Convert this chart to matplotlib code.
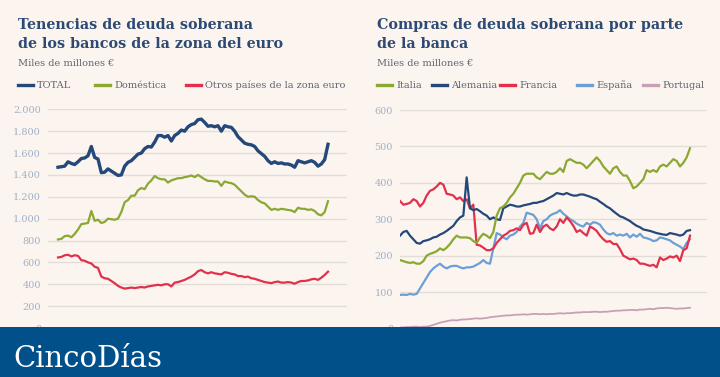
import matplotlib
matplotlib.use("Agg")
import matplotlib.pyplot as plt
from matplotlib.lines import Line2D
from matplotlib.patches import Rectangle

# --- datos (miles de millones de euros), lectura aproximada del gráfico ---
total = [1470, 1475, 1480, 1520, 1505, 1495, 1520, 1550, 1555, 1575, 1660, 1560,
         1545, 1420, 1425, 1455, 1435, 1415, 1395, 1400, 1480, 1515, 1530, 1560,
         1590, 1600, 1640, 1660, 1655, 1700, 1760, 1760, 1745, 1760, 1710, 1760,
         1780, 1810, 1800, 1840, 1860, 1870, 1905, 1910, 1880, 1845, 1850, 1840,
         1850, 1800, 1850, 1840, 1835, 1800, 1750, 1720, 1690, 1680, 1675, 1660,
         1620, 1595, 1570, 1530, 1505, 1520, 1505, 1510, 1500, 1500, 1490, 1470,
         1530, 1520, 1510, 1520, 1530, 1515, 1480, 1500, 1540, 1680]
domestica = [810, 815, 840, 845, 830, 860, 900, 950, 955, 960, 1070, 980,
             990, 960, 970, 1000, 995, 990, 1000, 1060, 1150, 1170, 1210, 1210,
             1260, 1280, 1270, 1320, 1350, 1390, 1370, 1360, 1360, 1330, 1350, 1360,
             1370, 1370, 1380, 1385, 1395, 1380, 1400, 1380, 1360, 1345, 1345, 1340,
             1340, 1300, 1340, 1330, 1325, 1310, 1280, 1250, 1220, 1200, 1205, 1200,
             1170, 1150, 1140, 1110, 1080, 1090, 1080, 1090, 1085, 1080, 1075, 1060,
             1100, 1090, 1090, 1080, 1085, 1070, 1040, 1030, 1060, 1160]
otros = [645, 650, 665, 670, 655, 665, 660, 620, 615, 600, 590, 560,
         550, 470, 455, 450, 430, 410, 385, 370, 360, 365, 370, 365,
         370, 375, 370, 380, 385, 390, 395, 390, 400, 400, 380, 415,
         420, 430, 440, 455, 470, 490, 520, 530, 510, 500, 510, 500,
         495, 490, 510, 505, 495, 490, 475, 475, 465, 470, 455, 450,
         440, 430, 420, 415, 410, 420, 425, 415, 415, 420, 415, 405,
         420, 430, 430, 435, 445, 450, 440, 460, 485, 515]

italia = [188, 185, 182, 180, 182, 178, 178, 185, 200, 205, 208, 212, 220, 215, 222,
          232, 245, 255, 250, 250, 250, 248, 240, 235, 250, 260, 255, 248, 265, 310,
          330, 335, 345, 360, 370, 385, 400, 420, 425, 425, 425, 415, 410, 420, 430,
          425, 425, 430, 440, 430, 460, 465, 460, 455, 455, 450, 440, 450, 460, 470,
          460, 445, 435, 425, 440, 445, 430, 420, 420, 405, 385, 390, 400, 410, 435,
          430, 435, 430, 445, 450, 445, 455, 465, 460, 445, 455, 470, 495]
alemania = [255, 265, 268, 255, 245, 235, 233, 240, 242, 245, 250, 252, 258, 262, 268,
            275, 282, 295, 305, 310, 415, 330, 325, 328, 322, 315, 310, 300, 305, 300,
            298, 330, 335, 340, 338, 335, 335, 338, 340, 342, 345, 345, 348, 350, 355,
            360, 365, 372, 370, 368, 372, 368, 365, 365, 368, 368, 365, 362, 358, 355,
            348, 342, 335, 330, 322, 315, 308, 305, 300, 295, 288, 282, 278, 272, 270,
            268, 265, 262, 260, 258, 257, 262, 260, 258, 255, 258, 268, 270]
francia = [350, 340, 342, 345, 355, 350, 335, 345, 365, 378, 382, 390, 400, 395, 370,
           368, 365, 355, 360, 350, 355, 330, 340, 230, 228, 222, 215, 215, 220, 235,
           245, 255, 260, 268, 270, 275, 270, 285, 290, 260, 262, 285, 265, 280, 285,
           275, 270, 280, 300, 290, 305, 295, 282, 265, 270, 262, 255, 280, 275, 268,
           255, 245, 238, 240, 232, 232, 218, 200, 195, 190, 192, 188, 178, 178, 175,
           172, 175, 168, 195, 188, 192, 198, 195, 200, 185, 215, 220, 255]
espana = [92, 93, 92, 95, 93, 95, 110, 125, 140, 155, 165, 172, 178, 170, 165,
          170, 172, 172, 168, 165, 168, 168, 170, 175, 180, 188, 180, 178, 220, 262,
          258, 250, 245, 255, 258, 265, 280, 290, 318, 315, 312, 300, 275, 295, 300,
          310, 315, 318, 325, 315, 308, 300, 295, 288, 283, 280, 290, 285, 292, 290,
          285, 272, 262, 258, 262, 255, 258, 255, 260, 250, 258, 252, 260, 250, 248,
          245, 240, 242, 250, 248, 245, 242, 235, 230, 225, 218, 235, 245]
portugal = [3, 3, 4, 4, 5, 5, 4, 5, 5, 7, 10, 13, 16, 18, 20,
            22, 23, 22, 24, 25, 25, 26, 27, 28, 27, 28, 29, 31, 32, 33,
            34, 35, 36, 36, 37, 38, 38, 39, 38, 39, 40, 40, 39, 40, 39,
            40, 40, 41, 42, 41, 42, 42, 43, 44, 44, 45, 45, 45, 46, 46,
            45, 46, 46, 47, 48, 49, 49, 50, 50, 51, 51, 50, 52, 52, 53,
            54, 53, 55, 56, 56, 57, 56, 55, 54, 55, 55, 56, 57]

left_ticks = [0, 200, 400, 600, 800, 1000, 1200, 1400, 1600, 1800, 2000]
left_ticklabels = ["0", "200", "400", "600", "800", "1.000", "1.200", "1.400",
                   "1.600", "1.800", "2.000"]
right_ticks = [0, 100, 200, 300, 400, 500, 600]

# --- colores ---
BG = "#fcf5ef"
NAVY = "#24487a"
GREEN = "#8aa832"
RED = "#e2304c"
LBLUE = "#6b9fd6"
PINK = "#c99fb5"
TITLE = "#2c4a74"
GRID = "#e3ddd8"
TICK = "#9fb0c8"
TXT = "#5d6474"
BANNER = "#01508a"

plt.rcParams["font.family"] = ["DejaVu Serif"]

fig = plt.figure(figsize=(7.2, 3.77), dpi=100, facecolor=BG)


def style_axes(ax):
    ax.set_facecolor(BG)
    for s in ax.spines.values():
        s.set_visible(False)
    ax.grid(axis="y", color=GRID, linewidth=1.0)
    ax.set_axisbelow(True)
    ax.tick_params(axis="y", length=0, pad=5, labelsize=7, labelcolor=TICK)
    ax.set_xticks([])


# izquierda
ax1 = fig.add_axes([48 / 720, 49 / 377, 299 / 720, 218.7 / 377])
style_axes(ax1)
x1 = range(len(total))
ax1.plot(x1, otros, color=RED, lw=1.6, solid_joinstyle="round")
ax1.plot(x1, domestica, color=GREEN, lw=1.6, solid_joinstyle="round")
ax1.plot(x1, total, color=NAVY, lw=2.4, solid_joinstyle="round")
ax1.set_xlim(-3, 86.7)
ax1.set_ylim(0, 2000)
ax1.set_yticks(left_ticks)
ax1.set_yticklabels(left_ticklabels)

# derecha
ax2 = fig.add_axes([400 / 720, 48.5 / 377, 307 / 720, 218.5 / 377])
style_axes(ax2)
x2 = range(len(italia))
ax2.plot(x2, portugal, color=PINK, lw=1.3)
ax2.plot(x2, espana, color=LBLUE, lw=1.6)
ax2.plot(x2, francia, color=RED, lw=1.6)
ax2.plot(x2, alemania, color=NAVY, lw=1.6)
ax2.plot(x2, italia, color=GREEN, lw=1.6)
ax2.set_xlim(0, 92.1)
ax2.set_ylim(0, 600)
ax2.set_yticks(right_ticks)


def fx(px):
    return px / 720


def fy(py):
    return 1 - py / 377


# titulos
fig.text(fx(18), fy(29), "Tenencias de deuda soberana", fontsize=10.3,
         fontweight="bold", color=TITLE)
fig.text(fx(18), fy(48), "de los bancos de la zona del euro", fontsize=10.3,
         fontweight="bold", color=TITLE)
fig.text(fx(18), fy(66), "Miles de millones €", fontsize=7, color=TXT)

fig.text(fx(377), fy(29), "Compras de deuda soberana por parte", fontsize=10.3,
         fontweight="bold", color=TITLE)
fig.text(fx(377), fy(48), "de la banca", fontsize=10.3,
         fontweight="bold", color=TITLE)
fig.text(fx(377), fy(66), "Miles de millones €", fontsize=7, color=TXT)

# leyendas
legend_left = [("TOTAL", NAVY, 18), ("Doméstica", GREEN, 95),
               ("Otros países de la zona euro", RED, 186)]
legend_right = [("Italia", GREEN, 377), ("Alemania", NAVY, 432),
                ("Francia", RED, 500), ("España", LBLUE, 577),
                ("Portugal", PINK, 643)]
for label, col, px in legend_left + legend_right:
    fig.add_artist(Line2D([fx(px), fx(px + 15)], [fy(85), fy(85)],
                          color=col, lw=2.4, transform=fig.transFigure))
    fig.text(fx(px + 19), fy(85), label, fontsize=7, color=TXT, va="center")

# banda inferior
fig.add_artist(Rectangle((0, 0), 1, 50 / 377, transform=fig.transFigure,
                         facecolor=BANNER, edgecolor="none", zorder=10))
fig.text(fx(13), fy(367), "CincoDías", fontsize=21, color="white", zorder=11)

fig.savefig("out.png", dpi=100, facecolor=BG)
